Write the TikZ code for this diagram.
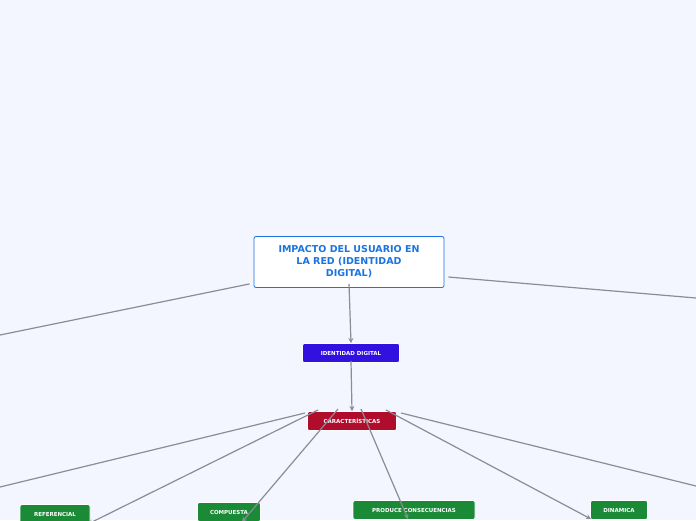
\documentclass[tikz,border=0pt]{standalone}
\usepackage{fontspec}
\setmainfont{DejaVu Sans}
\usetikzlibrary{arrows.meta}
\definecolor{bg}{HTML}{F3F6FE}
\definecolor{mainblue}{HTML}{1A73E0}
\definecolor{idblue}{HTML}{3210E0}
\definecolor{carred}{HTML}{B00C2C}
\definecolor{grn}{HTML}{1B8A36}
\definecolor{ln}{HTML}{8A8C98}
\begin{document}
\begin{tikzpicture}[x=1pt,y=-1pt,
  conn/.style={draw=ln,line width=1.2pt},
  arr/.style={conn,-{Stealth[length=5pt,width=5pt]}},
  small/.style={rounded corners=2pt,draw=white,line width=0.8pt,text=white,font=\fontsize{5.5}{6}\selectfont\bfseries,inner sep=0pt,anchor=center}]
\fill[bg] (0,0) rectangle (696,520);
\useasboundingbox (0,0) rectangle (696,520);
\node[draw=mainblue,fill=white,rounded corners=2pt,line width=0.8pt,minimum width=190pt,minimum height=51pt,align=center,text=mainblue,font=\fontsize{9.5}{12}\selectfont\bfseries,inner sep=0pt] (main) at (349,262) {IMPACTO DEL USUARIO EN\\LA RED (IDENTIDAD\\DIGITAL)};
\node[small,fill=idblue,minimum width=97pt,minimum height=19pt] (id) at (351,353) {IDENTIDAD DIGITAL};
\node[small,fill=carred,minimum width=89pt,minimum height=19pt] (car) at (352,421) {CARACTERÍSTICAS};
\node[small,fill=grn,minimum width=70pt,minimum height=19pt] (ref) at (55,514) {REFERENCIAL};
\node[small,fill=grn,minimum width=63pt,minimum height=19pt] (comp) at (229,512) {COMPUESTA};
\node[small,fill=grn,minimum width=122pt,minimum height=19pt] (prod) at (414,510) {PRODUCE CONSECUENCIAS};
\node[small,fill=grn,minimum width=57pt,minimum height=19pt] (din) at (619,510) {DINAMICA};
\coordinate (l1) at (0,335);
\coordinate (r1) at (696,298);
\coordinate (l2) at (0,487);
\coordinate (r2) at (696,486);
\draw[conn] (main.south west)++(-4,-4) -- (l1);
\draw[conn] ([xshift=4pt,yshift=-15pt]main.east) -- (r1);
\draw[arr] ([yshift=4pt]main.south) -- (id.north);
\draw[arr] ([yshift=2pt]id.south) -- (car.north);
\draw[conn] ([xshift=-47pt,yshift=8pt]car.center) -- (l2);
\draw[conn] ([xshift=49pt,yshift=8pt]car.center) -- (r2);
\draw[arr] ([xshift=-34pt,yshift=11pt]car.center) -- ([xshift=33pt,yshift=-10pt]ref.center);
\draw[arr] ([xshift=-14pt,yshift=12pt]car.center) -- ([xshift=13pt,yshift=-10pt]comp.center);
\draw[arr] ([xshift=9pt,yshift=12pt]car.center) -- ([xshift=-6pt,yshift=-9pt]prod.center);
\draw[arr] ([xshift=34pt,yshift=11pt]car.center) -- ([xshift=-28pt,yshift=-9pt]din.center);
\end{tikzpicture}
\end{document}
